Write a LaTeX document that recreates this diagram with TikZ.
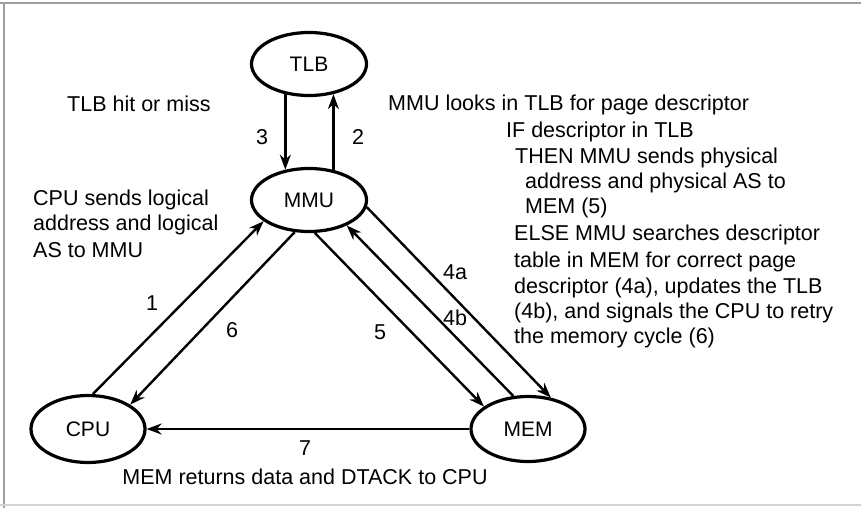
\documentclass[tikz,border=0pt]{standalone}
\usepackage{fontspec}
\setmainfont{Liberation Sans}
\usetikzlibrary{shapes.geometric,arrows.meta}
\begin{document}
\begin{tikzpicture}[x=1pt,y=-1pt,
  unit/.style={ellipse,draw,line width=3.2pt,inner sep=0pt,font=\fontsize{21}{25}\selectfont},
  arr/.style={line width=2.4pt,-{Stealth[length=15pt,width=11pt]}},
  txt/.style={anchor=west,inner sep=0pt,font=\fontsize{21.5}{25}\selectfont},
  num/.style={inner sep=0pt,font=\fontsize{21.5}{25}\selectfont}]
\useasboundingbox (0,0) rectangle (861,508);
\draw[gray!75, line width=1.6pt] (0,3) -- (861,3);
\draw[gray!75, line width=1.4pt] (4,3) -- (4,508);
\draw[gray!35, line width=1.4pt] (0,505) -- (861,505);

\node[unit,minimum width=115pt,minimum height=63pt] (tlb) at (309,64) {TLB};
\node[unit,minimum width=115pt,minimum height=63pt] (mmu) at (309,200) {MMU};
\node[unit,minimum width=114pt,minimum height=67pt] (cpu) at (88,429) {CPU};
\node[unit,minimum width=114pt,minimum height=65pt] (mem) at (528,429) {MEM};

\draw[arr] (tlb.-128.6) -- (mmu.128.6);
\draw[arr] (mmu.51.4) -- (tlb.-51.4);
\draw[arr] (cpu.82) -- (mmu.-155);
\draw[arr] (mmu.-114.6) -- (cpu.30.6);
\draw[arr] (mmu.-80.3) -- (mem.153.4);
\draw[arr] (mem.114) -- (mmu.-34.3);
\draw[arr] (mmu.-7.7) -- (mem.54.8);
\draw[arr] (mem.west) -- (cpu.east);

\node[num] (n3) at (262,137) {3};
\node[num] (n2) at (358,137) {2};
\node[num] (n1) at (152,303) {1};
\node[num] (n6) at (232,330) {6};
\node[num] (n5) at (380,332) {5};
\node[num] (n4b) at (455,318) {4b};
\node[num] (n4a) at (455,272) {4a};
\node[num] (n7) at (305,448) {7};

\node[txt] (hit) at (67,104) {TLB hit or miss};
\node[txt] (c1) at (33,200) {CPU sends logical};
\node[txt] (c2) at (33,225) {address and logical};
\node[txt] (c3) at (33,250) {AS to MMU};
\node[txt] (m1) at (388,105) {MMU looks in TLB for page descriptor};
\node[txt] (m2) at (506,132) {IF descriptor in TLB};
\node[txt] (m3) at (515,158) {THEN MMU sends physical};
\node[txt] (m4) at (525,183) {address and physical AS to};
\node[txt] (m5) at (525,208) {MEM (5)};
\node[txt] (m6) at (514,235) {ELSE MMU searches descriptor};
\node[txt] (m7) at (514,262) {table in MEM for correct page};
\node[txt] (m8) at (514,288) {descriptor (4a), updates the TLB};
\node[txt] (m9) at (514,313) {(4b), and signals the CPU to retry};
\node[txt] (m10) at (514,338) {the memory cycle (6)};
\node[num] (ret) at (305,477) {MEM returns data and DTACK to CPU};
\end{tikzpicture}
\end{document}
